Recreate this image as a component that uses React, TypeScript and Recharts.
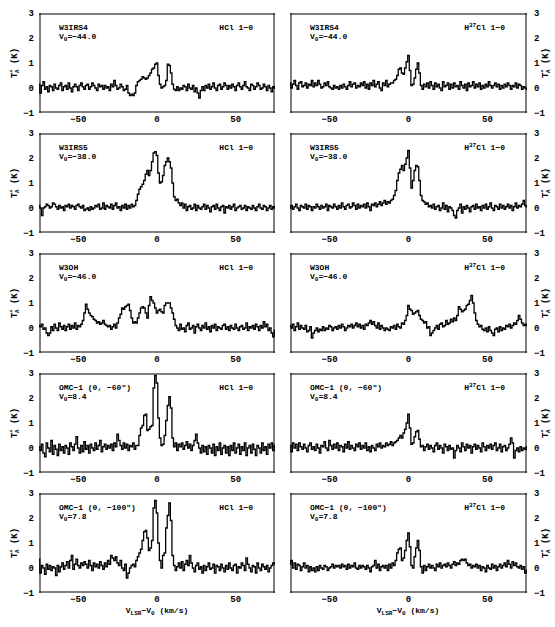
import React from "react";
import { LineChart, Line, XAxis, YAxis } from "recharts";

// channel velocities, V_LSR - V_0 in km/s
const velocity = [
  -75, -74, -73, -72, -71, -70, -69, -68, -67, -66, -65, -64, -63, -62, -61,
  -60, -59, -58, -57, -56, -55, -54, -53, -52, -51, -50, -49, -48, -47, -46,
  -45, -44, -43, -42, -41, -40, -39, -38, -37, -36, -35, -34, -33, -32, -31,
  -30, -29, -28, -27, -26, -25, -24, -23, -22, -21, -20, -19, -18, -17, -16,
  -15, -14, -13, -12, -11, -10, -9, -8, -7, -6, -5, -4, -3, -2, -1,
  0, 1, 2, 3, 4, 5, 6, 7, 8, 9, 10, 11, 12, 13, 14,
  15, 16, 17, 18, 19, 20, 21, 22, 23, 24, 25, 26, 27, 28, 29,
  30, 31, 32, 33, 34, 35, 36, 37, 38, 39, 40, 41, 42, 43, 44,
  45, 46, 47, 48, 49, 50, 51, 52, 53, 54, 55, 56, 57, 58, 59,
  60, 61, 62, 63, 64, 65, 66, 67, 68, 69, 70, 71, 72, 73, 74,
  75,
];

// HCl 1-0, T_A* (K)
const hclW3irs4 = [
  0.15, -0.2, 0.1, 0.25, -0.05, 0.05, -0.15, 0.1, 0.05, -0.1, 0.15, 0.0, -0.05, 0.1, 0.2,
  -0.1, 0.05, 0.1, -0.05, 0.2, 0.0, -0.15, 0.05, 0.15, 0.05, -0.1, 0.1, 0.2, 0.05, -0.05,
  0.1, 0.15, -0.05, 0.05, 0.2, 0.1, 0.0, -0.1, 0.15, 0.05, 0.1, -0.05, 0.1, 0.0, 0.05,
  -0.1, 0.15, 0.05, 0.3, 0.1, -0.05, 0.0, 0.15, 0.05, -0.1, -0.05, 0.1, -0.2, -0.3, -0.25,
  -0.3, -0.2, 0.1, 0.25, 0.3, 0.35, 0.45, 0.4, 0.35, 0.4, 0.5, 0.6, 0.75, 0.8, 0.95,
  1.0, 0.5, 0.15, 0.0, 0.05, 0.1, 0.3, 0.95, 0.9, 0.6, 0.15, -0.05, -0.1, 0.05, -0.1,
  0.0, -0.05, 0.1, 0.05, -0.1, 0.15, 0.0, -0.05, 0.1, -0.15, 0.0, -0.2, -0.4, -0.1, 0.05,
  -0.1, 0.1, 0.0, 0.15, -0.05, 0.05, 0.2, 0.0, -0.1, 0.1, 0.15, -0.05, 0.05, 0.2, 0.1,
  -0.05, 0.1, 0.0, 0.15, 0.05, -0.1, 0.1, 0.2, 0.05, -0.05, 0.1, 0.25, 0.05, 0.0, -0.1,
  0.15, 0.1, -0.05, 0.05, 0.2, 0.1, -0.05, 0.0, 0.15, 0.05, -0.1, 0.1, 0.0, -0.15, 0.05,
  0.0,
];
const hclW3irs5 = [
  0.1, 0.0, -0.3, 0.0, 0.05, 0.15, 0.1, 0.0, 0.05, 0.2, 0.15, 0.05, -0.05, 0.1, 0.0,
  0.05, -0.1, 0.1, 0.05, 0.15, 0.0, 0.1, 0.05, -0.05, 0.1, 0.15, 0.05, 0.0, 0.1, -0.1,
  -0.05, 0.0, -0.1, 0.05, -0.05, 0.0, 0.1, 0.05, 0.15, -0.05, 0.0, 0.2, -0.05, 0.1, 0.05,
  0.0, 0.15, -0.05, 0.1, 0.2, 0.0, 0.05, -0.1, 0.1, 0.0, 0.15, -0.05, 0.1, 0.0, 0.15,
  0.05, 0.1, 0.3, 0.55, 0.75, 0.85, 0.95, 1.1, 1.35, 1.5, 1.3, 1.5, 1.85, 2.2, 2.25,
  2.1, 1.4, 1.0, 1.05, 1.3, 1.7, 1.85, 2.0, 1.85, 1.6, 1.0, 0.45, 0.3, 0.35, 0.2,
  0.1, 0.2, 0.0, 0.15, -0.1, 0.05, 0.1, -0.05, 0.0, 0.15, -0.1, 0.1, 0.0, -0.05, 0.05,
  0.15, -0.05, 0.1, 0.0, -0.15, 0.05, 0.1, -0.05, 0.15, 0.0, -0.1, 0.05, 0.1, -0.2, 0.05,
  0.0, 0.1, -0.05, 0.05, 0.15, -0.1, 0.0, 0.05, 0.1, -0.05, 0.0, 0.1, -0.1, 0.05, 0.0,
  -0.05, 0.1, 0.0, -0.1, 0.05, 0.15, 0.0, -0.05, 0.1, 0.05, -0.1, 0.0, 0.1, -0.05, 0.05,
  0.0,
];
const hclW3oh = [
  0.1, 0.05, 0.15, -0.05, 0.0, -0.2, -0.3, -0.2, 0.05, -0.1, 0.15, 0.0, -0.1, 0.2, 0.05,
  -0.05, 0.1, -0.1, 0.05, 0.15, -0.05, 0.1, 0.0, 0.2, -0.05, 0.1, 0.05, 0.15, 0.3, 0.6,
  0.95, 0.75, 0.6, 0.5, 0.45, 0.35, 0.3, 0.2, 0.25, 0.15, 0.2, 0.3, 0.15, 0.1, 0.05,
  0.1, -0.05, 0.05, 0.15, 0.0, 0.2, 0.4, 0.55, 0.8, 0.75, 0.85, 0.9, 0.95, 0.7, 0.4,
  0.2, 0.25, 0.2, 0.4, 0.6, 0.8, 0.85, 0.8, 0.6, 0.4, 0.9, 1.25, 1.1, 1.0, 0.8,
  0.6, 0.7, 0.75, 0.65, 0.6, 0.9, 1.0, 1.0, 1.0, 0.8, 0.6, 0.35, 0.1, 0.0, -0.1,
  0.15, -0.05, 0.0, -0.15, 0.1, 0.2, -0.05, 0.0, 0.1, -0.2, 0.05, 0.15, 0.0, -0.1, 0.1,
  0.0, 0.2, -0.05, 0.05, -0.15, 0.1, 0.0, 0.15, -0.1, 0.05, 0.0, -0.05, 0.1, 0.15, -0.05,
  0.05, -0.1, 0.1, 0.0, -0.05, 0.15, 0.0, -0.1, 0.05, 0.1, -0.05, 0.0, 0.2, -0.1, 0.05,
  0.0, 0.1, -0.05, 0.15, 0.05, -0.1, 0.1, 0.0, 0.25, 0.05, 0.15, -0.1, 0.0, -0.2, -0.35,
  -0.1,
];
const hclOmc60 = [
  0.05, -0.1, 0.15, -0.2, -0.35, 0.2, 0.0, -0.15, 0.3, -0.25, 0.1, -0.05, -0.3, 0.15, -0.1,
  0.05, -0.2, 0.1, 0.0, -0.25, 0.2, 0.05, -0.1, 0.15, 0.45, 0.0, -0.2, 0.1, -0.15, 0.25,
  -0.05, 0.1, -0.2, 0.15, 0.0, -0.1, 0.2, -0.05, 0.1, 0.3, -0.15, 0.05, 0.15, -0.05, 0.1,
  0.0, 0.15, -0.1, 0.2, 0.05, 0.55, 0.3, 0.1, -0.05, 0.2, 0.0, 0.15, -0.1, 0.1, 0.05,
  0.2, -0.05, 0.1, 0.1, 0.5, 0.8, 0.9, 1.3, 1.35, 0.7, 0.75, 0.85, 0.9, 2.4, 2.9,
  2.6, 1.2, 0.4, 0.1, 0.15, 0.5, 1.1, 1.7, 2.05, 1.6, 0.4, 0.05, 0.2, -0.1, 0.15,
  0.05, 0.2, -0.05, 0.1, 0.25, 0.0, 0.15, -0.1, 0.1, 0.3, 0.55, 0.2, 0.0, -0.2, 0.1,
  -0.15, 0.05, -0.25, 0.1, 0.0, -0.2, 0.15, -0.3, 0.05, -0.1, 0.2, -0.25, 0.0, 0.1, -0.2,
  0.05, -0.3, 0.1, -0.1, 0.2, -0.2, 0.0, 0.15, -0.25, 0.05, -0.1, 0.2, -0.3, 0.0, 0.1,
  -0.2, 0.15, -0.05, -0.3, 0.1, 0.0, -0.2, 0.2, -0.1, 0.05, -0.25, 0.15, 0.0, 0.2, -0.1,
  0.1,
];
const hclOmc100 = [
  0.35, -0.2, 0.1, 0.0, -0.25, 0.15, -0.05, 0.1, -0.1, 0.05, 0.0, -0.3, 0.1, -0.15, 0.05,
  0.2, -0.05, 0.1, 0.25, 0.0, 0.3, 0.5, -0.05, 0.15, 0.35, 0.1, 0.0, 0.2, 0.1, 0.25,
  0.15, 0.0, 0.3, 0.1, -0.1, 0.2, 0.05, 0.15, 0.0, 0.25, 0.1, -0.05, 0.2, 0.05, 0.3,
  0.15, 0.5, 0.4, 0.3, 0.45, 0.2, 0.1, 0.3, 0.0, -0.1, 0.15, -0.4, -0.2, 0.0, 0.1,
  0.15, 0.05, 0.3, 0.45, 0.6, 0.75, 1.1, 1.45, 1.5, 1.2, 0.7, 0.8, 1.1, 2.4, 2.7,
  2.2, 1.0, 0.3, 0.0, 0.5, 0.6, 1.6, 2.1, 2.6, 1.9, 0.5, 0.1, -0.1, 0.05, 0.2,
  0.0, 0.25, -0.1, 0.15, 0.3, 0.1, 0.5, 0.2, 0.0, -0.15, 0.1, 0.2, -0.05, 0.05, -0.2,
  0.1, -0.1, 0.05, 0.2, -0.05, 0.0, 0.15, -0.2, 0.1, 0.05, -0.1, 0.15, 0.0, -0.15, 0.1,
  -0.05, 0.2, 0.0, -0.1, 0.1, 0.15, -0.2, 0.05, 0.0, 0.2, 0.1, -0.1, 0.4, 0.15, 0.0,
  -0.15, 0.1, 0.05, -0.2, 0.2, 0.0, -0.1, 0.15, 0.05, -0.05, 0.1, -0.15, 0.0, 0.1, 0.2,
  0.15,
];

// H37Cl 1-0, T_A* (K)
const h37W3irs4 = [
  0.2, 0.0, 0.15, 0.3, 0.1, -0.05, 0.2, 0.25, 0.05, 0.1, 0.2, 0.0, 0.15, 0.1, 0.3,
  0.05, 0.2, 0.1, 0.3, 0.15, 0.0, 0.05, 0.2, 0.1, 0.25, 0.05, 0.0, -0.05, 0.1, 0.0,
  0.05, -0.05, 0.1, 0.0, 0.15, 0.05, -0.05, 0.1, 0.25, 0.05, 0.15, 0.2, 0.0, 0.1, 0.05,
  0.2, 0.1, 0.25, 0.0, 0.15, -0.05, 0.2, 0.1, 0.3, 0.05, 0.15, 0.25, 0.0, -0.1, 0.2,
  0.1, 0.3, 0.05, 0.15, 0.2, 0.2, 0.3, 0.35, 0.5, 0.75, 0.8, 0.6, 0.55, 0.8, 1.05,
  1.3, 0.7, 0.1, 0.15, 0.4, 0.75, 1.0, 0.6, 0.1, -0.05, 0.15, 0.05, 0.2, 0.0, 0.25,
  0.1, -0.05, 0.2, 0.05, 0.15, 0.0, -0.1, 0.25, 0.05, 0.1, 0.2, -0.05, 0.15, 0.0, 0.2,
  0.05, 0.1, -0.05, 0.25, 0.1, 0.0, 0.15, -0.1, 0.2, 0.05, 0.1, 0.25, 0.0, 0.15, 0.05,
  0.2, -0.05, 0.1, 0.0, 0.15, 0.05, 0.25, 0.1, 0.0, 0.1, 0.2, 0.05, 0.15, -0.05, 0.1,
  0.0, 0.15, 0.05, 0.2, 0.1, -0.05, 0.1, 0.05, 0.2, 0.0, 0.15, 0.1, -0.05, 0.05, 0.0,
  -0.05,
];
const h37W3irs5 = [
  0.0, 0.1, -0.05, 0.05, 0.15, 0.0, -0.1, 0.1, 0.05, 0.0, 0.15, -0.05, 0.1, 0.05, -0.1,
  0.05, 0.0, 0.15, 0.05, -0.05, 0.1, 0.0, 0.05, 0.15, -0.1, 0.1, 0.05, 0.0, 0.15, 0.05,
  -0.05, 0.1, 0.0, 0.2, 0.05, -0.05, 0.1, 0.15, 0.0, 0.05, 0.2, 0.1, -0.05, 0.15, 0.0,
  0.1, 0.05, 0.15, 0.0, 0.2, 0.05, -0.1, 0.15, 0.1, 0.2, 0.05, 0.15, 0.25, 0.1, 0.2,
  0.3, 0.15, 0.25, 0.2, 0.3, 0.35, 0.5, 0.7, 1.1, 1.4, 1.55, 1.7, 1.5, 1.75, 2.0,
  2.3, 1.6, 0.8, 1.1, 1.5, 1.7, 1.65, 1.1, 0.5, 0.3, 0.25, 0.15, 0.2, 0.05, 0.1,
  0.0, 0.15, -0.05, 0.05, 0.1, -0.1, 0.0, 0.2, -0.05, 0.1, -0.15, 0.05, 0.0, -0.1, -0.3,
  -0.4, -0.1, 0.0, 0.15, -0.2, 0.05, -0.05, 0.1, 0.0, -0.15, 0.05, 0.1, -0.05, 0.15, 0.0,
  0.05, -0.1, 0.1, 0.0, 0.15, -0.05, 0.05, 0.2, 0.0, -0.1, 0.1, 0.05, -0.05, 0.15, 0.0,
  0.1, -0.05, 0.05, 0.15, 0.0, 0.1, -0.1, 0.05, 0.2, 0.0, 0.1, 0.05, 0.15, 0.3, 0.1,
  0.05,
];
const h37W3oh = [
  0.1, 0.0, 0.15, -0.1, 0.05, 0.2, -0.05, 0.1, 0.0, -0.05, 0.1, -0.15, -0.1, 0.05, -0.4,
  -0.2, -0.1, 0.0, -0.15, -0.05, -0.1, 0.05, -0.1, 0.0, -0.05, 0.1, 0.05, -0.1, 0.0, 0.05,
  -0.05, 0.1, 0.0, 0.15, 0.05, -0.1, 0.0, 0.1, 0.05, 0.15, 0.0, 0.1, 0.2, 0.05, 0.15,
  0.0, 0.1, -0.05, 0.15, 0.1, 0.2, 0.3, 0.15, 0.25, 0.1, 0.0, 0.2, -0.05, 0.1, 0.0,
  -0.1, 0.0, -0.05, -0.1, 0.05, 0.0, 0.1, -0.05, 0.15, 0.05, 0.0, 0.2, 0.15, 0.3, 0.5,
  0.9, 0.75, 0.7, 0.55, 0.6, 0.65, 0.7, 0.5, 0.35, 0.3, 0.2, 0.25, 0.0, 0.05, -0.3,
  -0.2, -0.1, 0.0, 0.1, -0.05, 0.15, 0.2, 0.05, 0.1, 0.3, 0.15, 0.2, 0.35, 0.25, 0.4,
  0.3, 0.5, 0.85, 0.75, 0.65, 0.7, 0.75, 0.9, 0.95, 1.1, 1.3, 1.0, 0.6, 0.3, 0.15,
  0.05, 0.1, -0.05, -0.1, 0.0, -0.15, 0.05, -0.1, -0.2, -0.3, -0.05, 0.0, -0.15, 0.05, -0.1,
  0.0, -0.05, 0.1, 0.05, 0.15, 0.0, 0.1, 0.2, 0.15, 0.3, 0.5, 0.35, 0.2, 0.1, 0.15,
  0.1,
];
const h37Omc60 = [
  0.1, -0.15, 0.2, 0.0, 0.15, -0.1, 0.2, 0.05, -0.05, 0.15, 0.0, -0.15, 0.1, 0.2, -0.05,
  0.05, -0.1, 0.15, 0.0, -0.2, 0.1, 0.05, 0.25, 0.0, -0.1, 0.3, 0.1, -0.05, 0.15, 0.0,
  0.2, -0.1, 0.1, 0.05, -0.15, 0.15, 0.0, 0.25, -0.05, 0.1, 0.0, -0.1, 0.15, 0.05, 0.2,
  -0.05, 0.1, 0.0, 0.2, -0.1, 0.05, -0.15, 0.1, 0.0, -0.1, 0.15, 0.05, 0.2, 0.0, 0.1,
  0.05, 0.2, 0.1, 0.15, 0.25, 0.1, 0.2, 0.25, 0.3, 0.4, 0.5, 0.4, 0.6, 0.75, 1.0,
  1.35, 0.8, 0.15, 0.2, 0.45, 0.65, 0.7, 0.35, 0.05, 0.1, -0.1, 0.05, 0.15, -0.05, 0.1,
  0.0, -0.15, 0.1, 0.2, -0.05, 0.1, 0.0, -0.2, 0.15, 0.05, -0.1, 0.1, -0.05, 0.0, -0.4,
  -0.1, 0.1, 0.0, -0.15, 0.2, 0.05, -0.1, 0.15, 0.0, 0.1, -0.2, 0.05, 0.15, -0.05, 0.1,
  0.0, -0.15, 0.2, 0.05, -0.1, 0.1, 0.0, 0.15, -0.05, 0.1, 0.2, -0.1, 0.0, 0.15, -0.15,
  0.05, 0.1, -0.1, 0.0, 0.15, 0.4, 0.2, -0.4, -0.1, 0.0, -0.15, 0.05, -0.1, 0.0, -0.05,
  0.05,
];
const h37Omc100 = [
  0.15, 0.3, 0.0, 0.2, -0.05, 0.15, 0.1, -0.1, 0.05, 0.2, 0.0, 0.1, -0.15, 0.05, -0.1,
  0.0, -0.15, 0.05, -0.1, 0.1, 0.0, -0.05, 0.1, 0.05, -0.1, 0.0, 0.05, 0.15, 0.0, 0.1,
  0.05, 0.1, 0.0, 0.15, 0.05, 0.1, -0.05, 0.15, 0.0, 0.1, 0.05, 0.2, 0.0, -0.05, 0.1,
  0.0, 0.1, 0.05, -0.05, 0.1, 0.0, -0.15, 0.05, 0.1, 0.3, 0.0, 0.15, -0.1, 0.05, 0.1,
  0.0, 0.1, -0.1, 0.15, 0.0, 0.2, 0.1, 0.3, 0.6, 0.75, 0.8, 0.3, 0.4, 0.7, 1.1,
  1.4, 0.85, 0.1, 0.0, 0.45, 0.8, 1.1, 0.7, 0.05, -0.2, 0.1, -0.1, 0.05, 0.15, 0.0,
  0.1, 0.0, -0.1, 0.15, 0.05, 0.2, 0.0, 0.1, 0.15, 0.05, 0.2, 0.1, 0.0, 0.15, 0.25,
  0.1, 0.2, 0.15, 0.3, 0.35, 0.3, 0.35, 0.2, 0.1, 0.15, 0.0, 0.1, 0.05, 0.15, 0.0,
  0.1, -0.1, 0.05, 0.0, -0.15, 0.1, 0.0, -0.05, 0.15, 0.0, 0.1, -0.1, 0.05, 0.15, 0.0,
  0.1, 0.2, 0.05, 0.3, 0.15, 0.0, 0.25, 0.1, 0.2, 0.05, 0.0, 0.1, -0.05, 0.05, -0.2,
  -0.1,
];

const sourceNames = ["W3IRS4", "W3IRS5", "W3OH", "OMC\u22121 (0, \u221260\u2033)", "OMC\u22121 (0, \u2212100\u2033)"];
const systemicVelocities = ["\u221244.0", "\u221238.0", "\u221246.0", "8.4", "7.8"];
const hclSpectra = [hclW3irs4, hclW3irs5, hclW3oh, hclOmc60, hclOmc100];
const h37Spectra = [h37W3irs4, h37W3irs5, h37W3oh, h37Omc60, h37Omc100];

const xMajorTicks = [-50, 0, 50];
const xMinorTicks = [-70, -60, -40, -30, -20, -10, 10, 20, 30, 40, 60, 70];
const yMajorTicks = [-1, 0, 1, 2, 3];
const yMinorTicks = [-0.8, -0.6, -0.4, -0.2, 0.2, 0.4, 0.6, 0.8, 1.2, 1.4, 1.6, 1.8, 2.2, 2.4, 2.6, 2.8];

const ROW_TOPS = [13, 133, 253, 373, 493];
const FONT = "'Liberation Mono', 'DejaVu Sans Mono', monospace";
const minus = (v: number) => String(v).replace("-", "\u2212");
const tickText = { fontSize: 9, fill: "#000", fontFamily: FONT, fontWeight: "bold" };
const black = { stroke: "#000", strokeWidth: 1 };

// mirrored axes with no labels: they draw the frame and the inward ticks
const xFrame = (id: string, orientation: "top" | "bottom", ticks: number[], size: number, line: boolean) => (
  <XAxis key={id} xAxisId={id} type="number" dataKey="v" domain={[-75, 75]} allowDataOverflow
    orientation={orientation} mirror height={1} ticks={ticks} interval={0} tick={false}
    tickSize={size} tickLine={black} axisLine={line ? black : false} />
);
const yFrame = (id: string, orientation: "left" | "right", ticks: number[], size: number, line: boolean) => (
  <YAxis key={id} yAxisId={id} type="number" domain={[-1, 3]} allowDataOverflow
    orientation={orientation} mirror width={1} ticks={ticks} interval={0} tick={false}
    tickSize={size} tickLine={black} axisLine={line ? black : false} />
);

function Spectrum({ values, side, boxTop }: { values: number[]; side: "left" | "right"; boxTop: number }) {
  const data = velocity.map((v, i) => ({ v, t: values[i] }));
  const isLeft = side === "left";
  return (
    <div style={{ position: "absolute", left: isLeft ? 0 : 280, top: boxTop - 8 }}>
      <LineChart
        width={isLeft ? 285 : 275}
        height={124}
        data={data}
        margin={isLeft ? { top: 8, right: 10, bottom: 0, left: 0 } : { top: 8, right: 0, bottom: 0, left: 10 }}
      >
        {xFrame("b0", "bottom", xMinorTicks, 3, false)}
        {xFrame("b1", "bottom", xMajorTicks, 5, true)}
        {xFrame("t0", "top", xMinorTicks, 3, false)}
        {xFrame("t1", "top", xMajorTicks, 5, true)}
        {yFrame("l0", "left", yMinorTicks, 3, false)}
        {yFrame("l1", "left", yMajorTicks, 5, true)}
        {yFrame("r0", "right", yMinorTicks, 3, false)}
        {yFrame("r1", "right", yMajorTicks, 5, true)}
        <XAxis xAxisId="xl" type="number" dataKey="v" domain={[-75, 75]} allowDataOverflow
          orientation="bottom" height={16} ticks={xMajorTicks} interval={0}
          tickLine={false} axisLine={false} tickSize={0} tickMargin={3}
          tick={tickText} tickFormatter={minus} />
        <YAxis yAxisId="yl" type="number" domain={[-1, 3]} allowDataOverflow
          orientation={side} width={isLeft ? 39 : 28} ticks={yMajorTicks} interval={0}
          tickLine={false} axisLine={false} tickSize={0} tickMargin={isLeft ? 5 : 7}
          tick={tickText} tickFormatter={minus} />
        <Line xAxisId="xl" yAxisId="yl" type="step" dataKey="t" stroke="#000"
          strokeWidth={1.3} dot={false} isAnimationActive={false} />
      </LineChart>
    </div>
  );
}

const small = (shift: number): React.CSSProperties => ({ fontSize: 6, position: "relative", top: shift });

function YTitle({ cx, cy }: { cx: number; cy: number }) {
  return (
    <div style={{ position: "absolute", left: cx, top: cy, transform: "translate(-50%, -50%) rotate(-90deg)",
      whiteSpace: "nowrap", font: `bold 9px ${FONT}` }}>
      T<span style={small(-3)}>*</span><span style={{ ...small(2), marginLeft: -4 }}>A</span> (K)
    </div>
  );
}

function Annotation({ boxLeft, boxRight, boxTop, source, v0, isotope }:
  { boxLeft: number; boxRight: number; boxTop: number; source: string; v0: string; isotope: boolean }) {
  return (
    <>
      <div style={{ position: "absolute", left: boxLeft + 20, top: boxTop + 10, font: `bold 8px ${FONT}`, lineHeight: "9px", whiteSpace: "nowrap" }}>
        <div>{source}</div>
        <div>V<span style={small(2)}>0</span>={v0}</div>
      </div>
      <div style={{ position: "absolute", right: 555 - boxRight + 22, top: boxTop + 10, font: `bold 8px ${FONT}`, lineHeight: "9px", whiteSpace: "nowrap" }}>
        {isotope ? <>H<span style={small(-3)}>37</span>Cl 1{"\u2212"}0</> : <>HCl 1{"\u2212"}0</>}
      </div>
    </>
  );
}

function XTitle({ cx }: { cx: number }) {
  return (
    <div style={{ position: "absolute", left: cx, top: 606, transform: "translateX(-50%)", whiteSpace: "nowrap", font: `bold 8px ${FONT}`, lineHeight: "9px" }}>
      V<span style={small(2)}>LSR</span>{"\u2212"}V<span style={small(2)}>0</span> (km/s)
    </div>
  );
}

export default function App() {
  return (
    <div style={{ position: "absolute", left: 0, top: 0, width: 555, height: 627, background: "#fff", overflow: "hidden" }}>
      {ROW_TOPS.map((top, r) => (
        <React.Fragment key={r}>
          <Spectrum values={hclSpectra[r]} side="left" boxTop={top} />
          <Spectrum values={h37Spectra[r]} side="right" boxTop={top} />
          <Annotation boxLeft={39} boxRight={275} boxTop={top} source={sourceNames[r]} v0={systemicVelocities[r]} isotope={false} />
          <Annotation boxLeft={290} boxRight={527} boxTop={top} source={sourceNames[r]} v0={systemicVelocities[r]} isotope={true} />
          <YTitle cx={15} cy={top + 50} />
          <YTitle cx={546} cy={top + 50} />
        </React.Fragment>
      ))}
      <XTitle cx={157} />
      <XTitle cx={408} />
    </div>
  );
}
